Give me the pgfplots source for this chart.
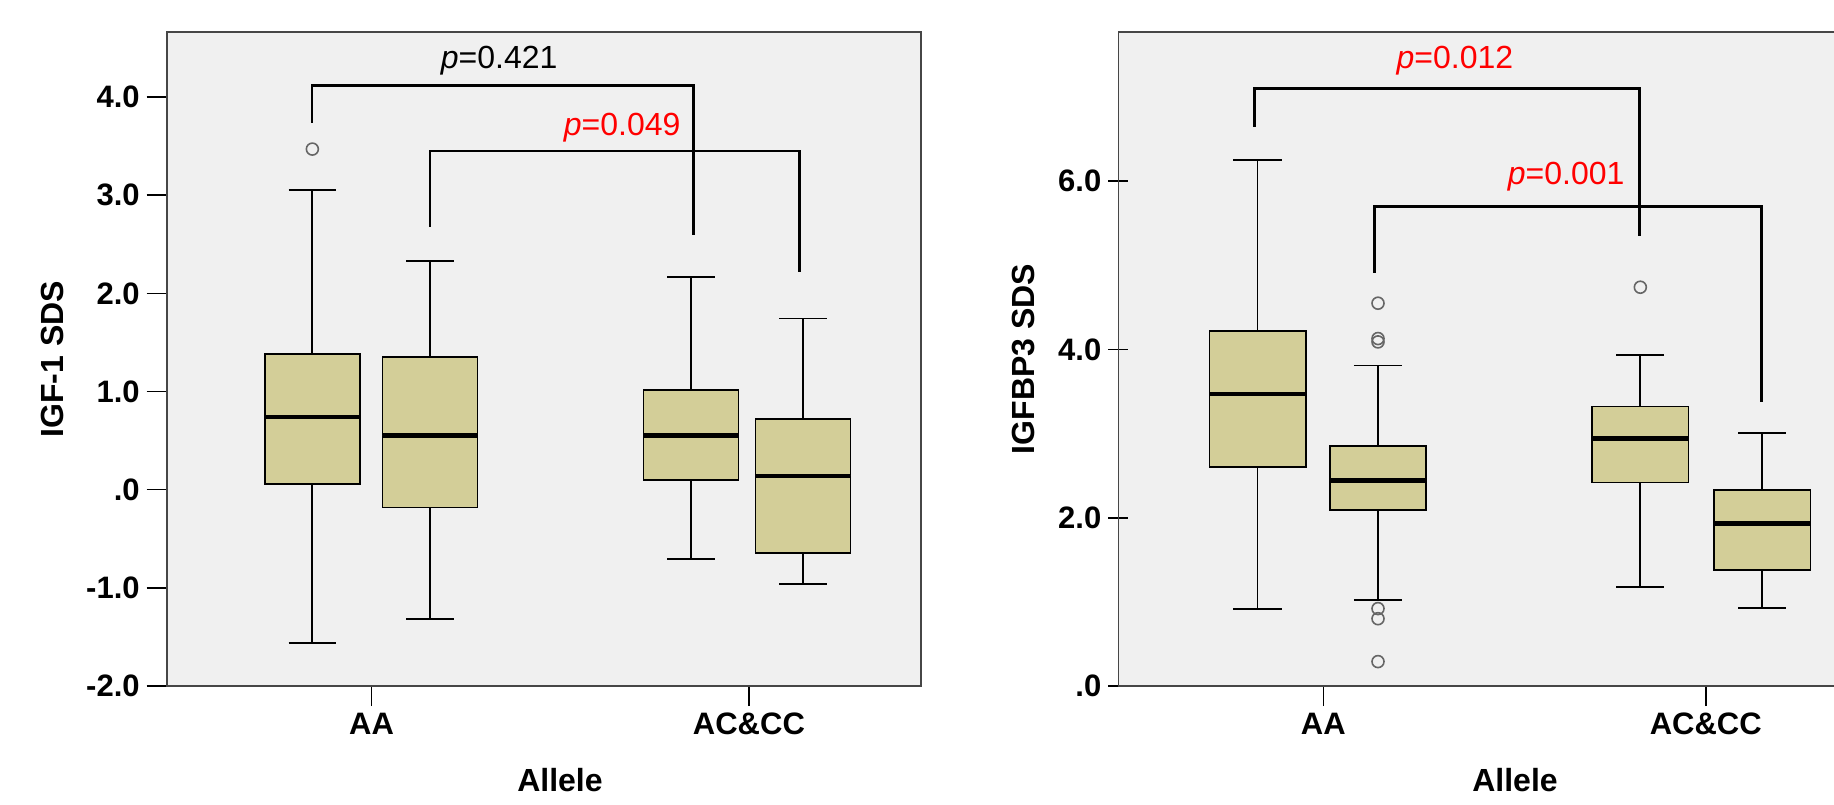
\documentclass[border=0pt]{standalone}
\usepackage{fontspec}
\setmainfont{Liberation Sans}
\usepackage{pgfplots}
\pgfplotsset{compat=1.18}
\usepgfplotslibrary{statistics}
\definecolor{bg}{RGB}{240,240,240}
\definecolor{boxc}{RGB}{211,206,152}
\definecolor{framec}{RGB}{70,70,70}
\pgfplotsset{
 spss/.style={
  scale only axis, anchor=south west,
  axis background/.style={fill=bg},
  axis line style={framec, line width=0.8pt},
  tick align=outside, major tick length=10pt,
  tick style={black, line width=0.8pt},
  xtick pos=left, ytick pos=left,
  xtick={1,2}, xticklabels={AA,AC\&CC},
  ticklabel style={font=\fontsize{15.5}{18}\selectfont\bfseries},
  clip=false,
  boxplot/draw direction=y,
  boxplot/every median/.style={line width=2.2pt},
  boxplot/every whisker/.style={line width=0.9pt},
 },
 bx/.style={black, fill=boxc, line width=0.8pt, mark=o, mark size=3pt,
   mark options={draw=black!60, fill=white, line width=0.8pt, solid}},
 br/.style={black, line width=1.4pt, mark=none, line join=miter},
}
\begin{document}
\begin{tikzpicture}
\useasboundingbox (0,0) rectangle (917pt,402pt);
% ---------- left panel ----------
\begin{axis}[spss, at={(83.35pt,59pt)}, width=377.15pt, height=326.85pt,
  xmin=0.457, xmax=2.456, ymin=-2, ymax=4.66,
  ytick={-2,-1,0,1,2,3,4}, yticklabels={-2.0,-1.0,.0,1.0,2.0,3.0,4.0}]
\addplot[bx, boxplot prepared={draw position=0.843, lower whisker=-1.56, lower quartile=0.061, median=0.741, upper quartile=1.38, upper whisker=3.05, box extend=0.252, whisker extend=0.126}]
  table[row sep=\\, y index=0] {3.47\\};
\addplot[bx, boxplot prepared={draw position=1.155, lower whisker=-1.315, lower quartile=-0.18, median=0.553, upper quartile=1.353, upper whisker=2.33, box extend=0.252, whisker extend=0.126}]
  coordinates {};
\addplot[bx, boxplot prepared={draw position=1.8465, lower whisker=-0.708, lower quartile=0.098, median=0.553, upper quartile=1.013, upper whisker=2.17, box extend=0.252, whisker extend=0.126}]
  coordinates {};
\addplot[bx, boxplot prepared={draw position=2.143, lower whisker=-0.964, lower quartile=-0.645, median=0.14, upper quartile=0.72, upper whisker=1.745, box extend=0.252, whisker extend=0.126}]
  coordinates {};
\addplot[br] coordinates {(0.842,3.74) (0.842,4.12) (1.854,4.12) (1.854,2.59)};
\addplot[br] coordinates {(1.155,2.68) (1.155,3.45) (2.133,3.45) (2.133,2.22)};
\node[font=\fontsize{16}{19}\selectfont] at (axis cs:1.338,4.37) {\textit{p}=0.421};
\node[font=\fontsize{16}{19}\selectfont, text=red] at (axis cs:1.664,3.69) {\textit{p}=0.049};
\node[rotate=90, font=\fontsize{16}{19}\selectfont\bfseries] at (axis description cs:-0.152,0.5) {IGF-1 SDS};
\node[font=\fontsize{16}{19}\selectfont\bfseries] at (axis description cs:0.5214,-0.1438) {Allele};
\end{axis}
% ---------- right panel ----------
\begin{axis}[spss, at={(559.15pt,59pt)}, width=357.85pt, height=326.85pt,
  axis x line=box, axis y line=left, axis line style={-},
  xmin=0.4639, xmax=2.3355, ymin=0, ymax=7.77,
  ytick={0,2,4,6}, yticklabels={.0,2.0,4.0,6.0}]
\addplot[bx, boxplot prepared={draw position=0.828, lower whisker=0.92, lower quartile=2.60, median=3.47, upper quartile=4.22, upper whisker=6.25, box extend=0.252, whisker extend=0.126}]
  coordinates {};
\addplot[bx, boxplot prepared={draw position=1.143, lower whisker=1.02, lower quartile=2.09, median=2.445, upper quartile=2.85, upper whisker=3.81, box extend=0.252, whisker extend=0.126}]
  table[row sep=\\, y index=0] {4.55\\4.13\\4.09\\0.92\\0.80\\0.29\\};
\addplot[bx, boxplot prepared={draw position=1.829, lower whisker=1.18, lower quartile=2.42, median=2.94, upper quartile=3.32, upper whisker=3.93, box extend=0.252, whisker extend=0.126}]
  table[row sep=\\, y index=0] {4.74\\};
\addplot[bx, boxplot prepared={draw position=2.148, lower whisker=0.93, lower quartile=1.38, median=1.93, upper quartile=2.33, upper whisker=3.01, box extend=0.252, whisker extend=0.126}]
  coordinates {};
\addplot[br] coordinates {(0.820,6.65) (0.820,7.10) (1.826,7.10) (1.826,5.35)};
\addplot[br] coordinates {(1.134,4.91) (1.134,5.70) (2.145,5.70) (2.145,3.37)};
\node[font=\fontsize{16}{19}\selectfont, text=red] at (axis cs:1.344,7.43) {\textit{p}=0.012};
\node[font=\fontsize{16}{19}\selectfont, text=red] at (axis cs:1.635,6.05) {\textit{p}=0.001};
\node[rotate=90, font=\fontsize{16}{19}\selectfont\bfseries] at (axis description cs:-0.1318,0.5) {IGFBP3 SDS};
\node[font=\fontsize{16}{19}\selectfont\bfseries] at (axis description cs:0.5543,-0.1438) {Allele};
\end{axis}
\end{tikzpicture}
\end{document}
